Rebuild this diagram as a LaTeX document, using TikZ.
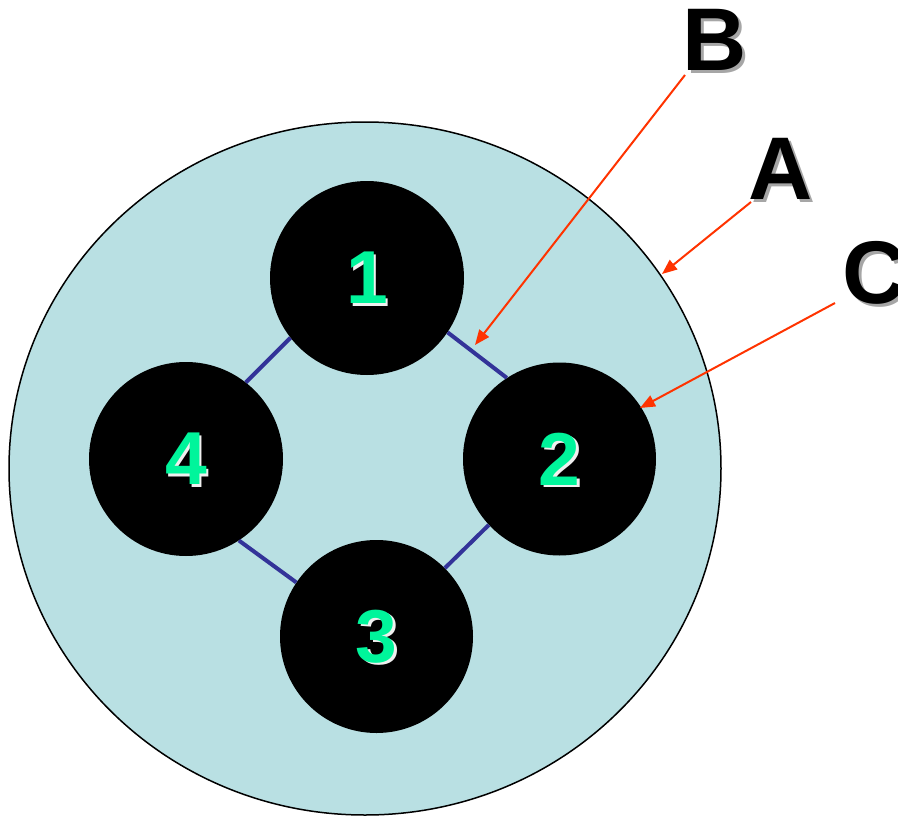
\documentclass[tikz,border=0pt]{standalone}
\usepackage{fontspec}
\setmainfont{Liberation Sans}
\usetikzlibrary{arrows.meta,shapes.geometric}
\definecolor{bgblue}{RGB}{185,224,227}
\definecolor{linkblue}{RGB}{51,51,153}
\definecolor{callred}{RGB}{255,51,0}
\definecolor{digitgreen}{RGB}{0,245,155}
\tikzset{
  disk/.style={circle, fill=black, inner sep=0pt},
  link/.style={draw=linkblue, line width=4pt},
  callout/.style={draw=callred, line width=2pt, -{Triangle[length=15pt,width=12pt]}},
  digit/.style={inner sep=0pt, text=digitgreen, font=\fontsize{75}{75}\selectfont\bfseries},
  digitshadow/.style={inner sep=0pt, text=white!88!gray, font=\fontsize{75}{75}\selectfont\bfseries},
  letter/.style={inner sep=0pt, text=black, font=\fontsize{89}{89}\selectfont\bfseries},
  lettershadow/.style={inner sep=0pt, text=black!35, font=\fontsize{89}{89}\selectfont\bfseries}
}
\begin{document}
\begin{tikzpicture}[x=1pt,y=-1pt]
\useasboundingbox (0,0) rectangle (898,817);
% outer disc
\node[ellipse, draw=black, line width=1.5pt, fill=bgblue, minimum width=712pt, minimum height=693pt, inner sep=0pt] (outer) at (365,468.5) {};
% inner discs
\node[disk, minimum size=194pt] (c1) at (367,278) {};
\node[disk, minimum size=193pt] (c2) at (559.5,459) {};
\node[disk, minimum size=193pt] (c3) at (376.5,636.5) {};
\node[disk, minimum size=194pt] (c4) at (186,459) {};
% links
\draw[link] (c1.218) -- (c4.52);
\draw[link] (c1.-34) -- (c2.123);
\draw[link] (c2.223) -- (c3.45);
\draw[link] (c4.-57) -- (c3.146);
% digits
\foreach \n in {1,2,3,4} {
  \node[digitshadow] at ([shift={(2.5,2.5)}]c\n.center) {\n};
  \node[digit] (d\n) at (c\n.center) {\n};
}
% letters
\node[lettershadow] at (718,43) {B};
\node[letter] (B) at (715,40) {B};
\node[lettershadow] at (784,171.5) {A};
\node[letter] (A) at (781,168.5) {A};
\node[lettershadow] at (878,275.5) {C};
\node[letter] (C) at (875,272.5) {C};
% callouts
\coordinate (sB) at (685,75);
\coordinate (tB) at (475,345);
\coordinate (sA) at (751,202);
\coordinate (tA) at (662,274);
\coordinate (sC) at (835,303);
\coordinate (tC) at (640,408);
\draw[callout] (sB) -- (tB);
\draw[callout] (sA) -- (tA);
\draw[callout] (sC) -- (tC);
\end{tikzpicture}
\end{document}
